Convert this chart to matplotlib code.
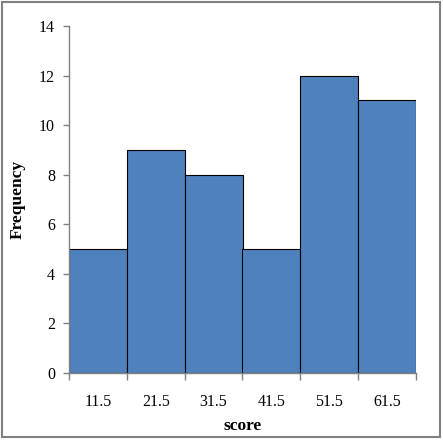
import matplotlib.pyplot as plt
from matplotlib.patches import Rectangle

plt.rcParams['font.family'] = ['Liberation Serif', 'DejaVu Serif']

bins = ['11.5', '21.5', '31.5', '41.5', '51.5', '61.5']
freq = [5, 9, 8, 5, 12, 11]

fig = plt.figure(figsize=(4.43, 4.40), dpi=100)
ax = fig.add_axes([69 / 443, 1 - 373 / 440, (416 - 69) / 443, (373 - 26) / 440])

x = list(range(len(bins)))
ax.bar(x, freq, width=1.0, color='#4F81BD', edgecolor='black', linewidth=0.8)

ax.set_xlim(-0.5, len(bins) - 0.5)
ax.set_ylim(0, 14)
ax.set_yticks(range(0, 15, 2))
ax.set_xticks(x)
ax.set_xticklabels(bins)
ax.set_xticks([i - 0.5 for i in range(len(bins) + 1)], minor=True)
ax.tick_params(axis='x', which='major', length=0, pad=15, labelsize=11.5)
ax.tick_params(axis='x', which='minor', length=5, color='#808080', width=1)
ax.tick_params(axis='y', length=4, color='#808080', width=1, labelsize=11.5, pad=6)

for s in ['top', 'right']:
    ax.spines[s].set_visible(False)
for s in ['left', 'bottom']:
    ax.spines[s].set_color('#808080')
    ax.spines[s].set_linewidth(1)

ax.set_ylabel('Frequency', fontsize=12.5, fontweight='bold', labelpad=10)
ax.set_xlabel('score', fontsize=12.5, fontweight='bold', labelpad=6)

fig.patches.append(Rectangle((0.004, 0.006), 0.99, 0.99, transform=fig.transFigure,
                             fill=False, edgecolor='#808080', linewidth=1.5))

fig.savefig('out.png', dpi=100)
